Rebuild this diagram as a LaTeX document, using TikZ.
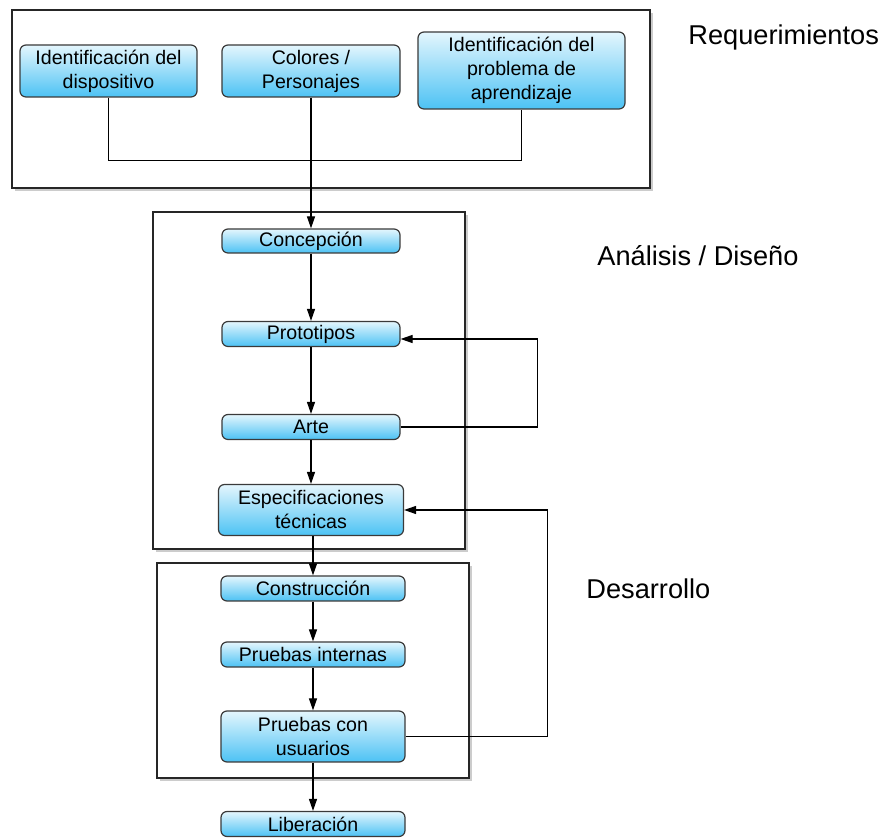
\documentclass[tikz,border=0pt]{standalone}
\usepackage{fontspec}
\setmainfont{Liberation Sans}
\usepackage{xcolor}
\usepackage{tikz}
\usetikzlibrary{arrows.meta,shadows}
\definecolor{cieloA}{HTML}{E4F6FD}
\definecolor{cieloB}{HTML}{4CC2F4}
\definecolor{borde}{HTML}{3A3A3A}

\begin{document}
\begin{tikzpicture}[x=0.5pt,y=-0.5pt,
          every node/.style={font=\fontsize{9.8}{12}\selectfont},
          fase/.style={draw=black!85,line width=0.9pt,fill=white,
                       drop shadow={shadow xshift=1.5pt,shadow yshift=-1.5pt,opacity=0.4}},
          etapa/.style={draw=borde,line width=0.6pt,rounded corners=3pt,
                        top color=cieloA,bottom color=cieloB,
                        align=center,inner sep=1pt},
          titulo/.style={anchor=west,inner sep=0pt,font=\fontsize{13.6}{16}\selectfont},
          arr/.style={-{Triangle[length=6pt,width=4pt]},line width=0.6pt},
          lin/.style={line width=0.6pt},
      ]
        \useasboundingbox (0,0) rectangle (891,838);
        \node[fase,minimum width=319pt,minimum height=89pt] (req) at (331,99) {};
        \node[fase,minimum width=156pt,minimum height=168.5pt] (dis) at (309,380.5) {};
        \node[fase,minimum width=156pt,minimum height=107.5pt] (des) at (313,670.5) {};

        \node[titulo] (treq) at (688,37) {Requerimientos};
        \node[titulo] (tdis) at (597,256) {Análisis / Diseño};
        \node[titulo] (tdes) at (586,589) {Desarrollo};

        \node[etapa,minimum width=88.5pt,minimum height=26pt] (disp) at (108.5,71)
          {Identificación del\\dispositivo};
        \node[etapa,minimum width=89pt,minimum height=26pt] (color) at (311,71)
          {Colores /\\Personajes};
        \node[etapa,minimum width=103.5pt,minimum height=38.5pt] (probl) at (521.5,70.5)
          {Identificación del\\problema de\\aprendizaje};

        \node[etapa,minimum width=89pt,minimum height=12pt] (concep) at (311,241) {Concepción};
        \node[etapa,minimum width=89pt,minimum height=12.5pt] (proto) at (311,334) {Prototipos};
        \node[etapa,minimum width=89pt,minimum height=12.5pt] (arte) at (311,427) {Arte};
        \node[etapa,minimum width=92.5pt,minimum height=25.5pt] (espec) at (311,510)
          {Especificaciones\\técnicas};

        \node[etapa,minimum width=92pt,minimum height=12.5pt] (constr) at (313,588.5) {Construcción};
        \node[etapa,minimum width=92pt,minimum height=12.5pt] (pint) at (313,654.5) {Pruebas internas};
        \node[etapa,minimum width=92pt,minimum height=25.5pt] (pusu) at (313,736.5)
          {Pruebas con\\usuarios};
        \node[etapa,minimum width=92pt,minimum height=12.5pt] (liber) at (313,824) {Liberación};

        \draw[lin] (disp.south) -- ++(0,63) -| (probl.south);
        \draw[arr] (color.south) -- (concep.north);
        \draw[arr] (concep) -- (proto);
        \draw[arr] (proto) -- (arte);
        \draw[arr] (arte) -- (espec);
        \draw[arr] (espec.south -| constr.north) -- (constr.north);
        \draw[arr] (constr) -- (pint);
        \draw[arr] (pint) -- (pusu);
        \draw[arr] (pusu) -- (liber);
        \draw[arr] (arte.east) -- ++(137,0) |- ([yshift=-2.5pt]proto.east);
        \draw[arr] (pusu.east) -- ++(142,0) |- (espec.east);
      \end{tikzpicture}
\end{document}
